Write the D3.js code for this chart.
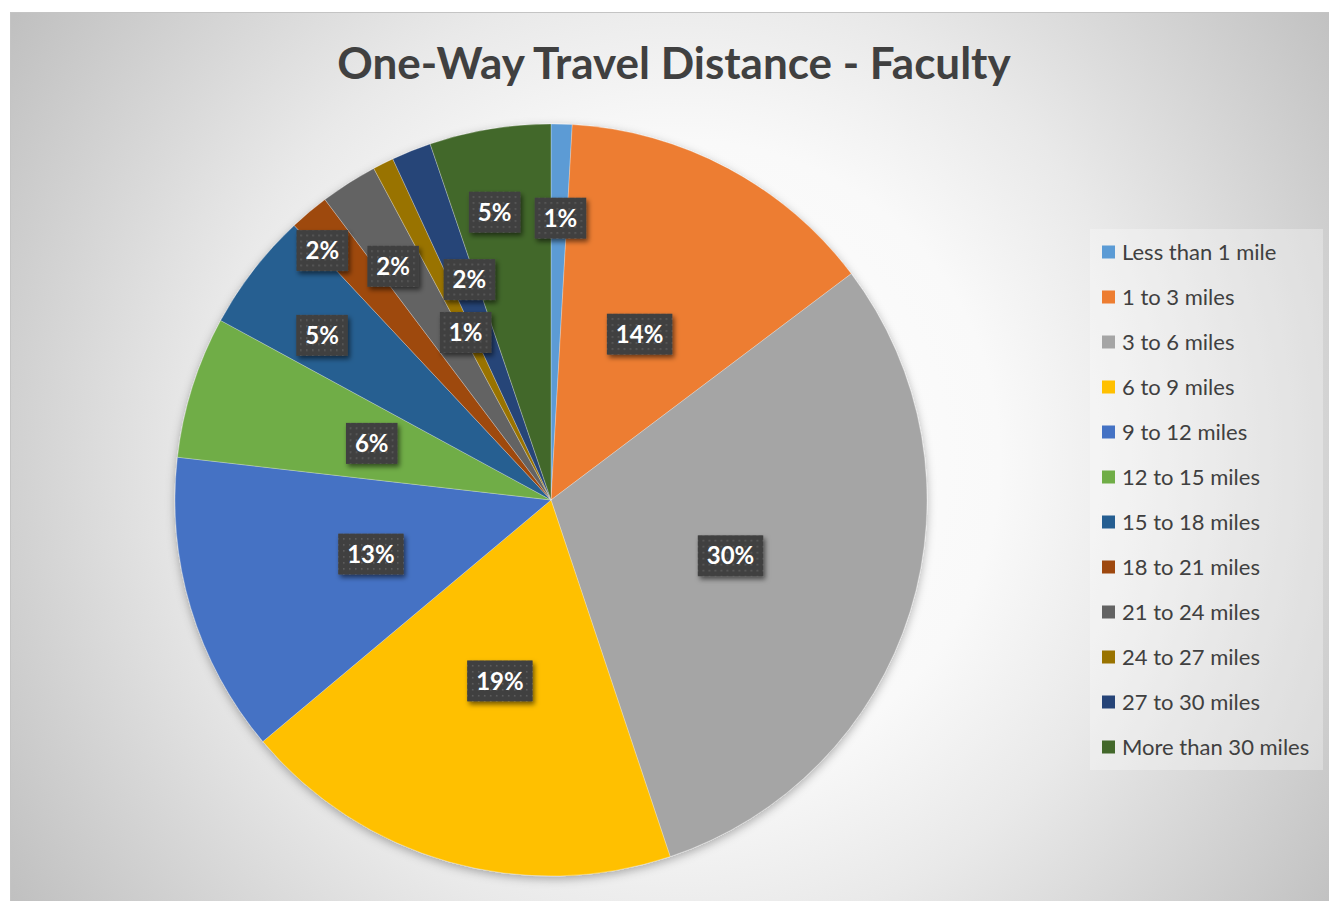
<!DOCTYPE html>
<html><head><meta charset="utf-8">
<script src="https://cdn.jsdelivr.net/npm/d3@7"></script>
<style>html,body{margin:0;padding:0;background:#fff;} svg{display:block}</style>
</head><body><svg id="chart" width="1329" height="901"></svg>
<script>
const chartTitle = "One-Way Travel Distance - Faculty";
const categories = ["Less than 1 mile","1 to 3 miles","3 to 6 miles","6 to 9 miles","9 to 12 miles","12 to 15 miles","15 to 18 miles","18 to 21 miles","21 to 24 miles","24 to 27 miles","27 to 30 miles","More than 30 miles"];
const percentValues = [0.9, 13.8, 30.1, 19.0, 12.9, 6.1, 5.1, 1.7, 2.45, 0.9, 1.7, 5.2];
const sliceColors = ["#5B9BD5","#ED7D31","#A5A5A5","#FFC000","#4472C4","#70AD47","#255E91","#9E480E","#636363","#997300","#264478","#43682B"];

// label placement (layout only): radius fraction and angular nudge (deg)
const labelRadius = [0.75,0.5,0.5,0.5,0.5,0.5,0.75,0.9,0.75,0.5,0.625,0.78];
const labelNudge  = [0.3,0,0,0,0,0,-2,-2.5,-1.5,-0.5,1.5,-1.7];

const svg = d3.select("#chart");
const defs = svg.append("defs");

const bg = defs.append("radialGradient").attr("id","bg").attr("gradientUnits","userSpaceOnUse")
  .attr("cx",680).attr("cy",460).attr("r",800);
[[0,"#ffffff"],[0.4,"#f9f9f9"],[0.6,"#e9e9e9"],[1,"#c0c0c0"]].forEach(s=>bg.append("stop").attr("offset",s[0]).attr("stop-color",s[1]));

svg.append("rect").attr("x",10.5).attr("y",12.5).attr("width",1330).attr("height",900)
  .attr("fill","url(#bg)").attr("stroke","#c4c4c4").attr("stroke-width",1);

svg.append("text").attr("x",674).attr("y",79).attr("text-anchor","middle")
  .style("font-family","Lato, 'Open Sans', sans-serif").style("font-weight","bold").style("font-size","44px")
  .attr("fill","#404040").text(chartTitle);

const cx = 551, cy = 500, R = 376;
const pie = d3.pie().sort(null).value(d=>d);
const arcs = pie(percentValues);
const arc = d3.arc().innerRadius(0).outerRadius(R);
const total = d3.sum(percentValues);

const ps = defs.append("filter").attr("id","pieShadow").attr("x","-10%").attr("y","-10%").attr("width","120%").attr("height","120%");
ps.append("feDropShadow").attr("dx",0).attr("dy",3).attr("stdDeviation",5).attr("flood-color","#000").attr("flood-opacity",0.3);

const g = svg.append("g").attr("transform",`translate(${cx},${cy})`);
g.append("g").attr("filter","url(#pieShadow)")
  .selectAll("path").data(arcs).join("path")
  .attr("d",arc).attr("fill",(d,i)=>sliceColors[i])
  .attr("stroke","rgba(255,255,255,0.45)").attr("stroke-width",0.6);

const pat = defs.append("pattern").attr("id","dots").attr("patternUnits","userSpaceOnUse").attr("width",6).attr("height",6);
pat.append("rect").attr("width",6).attr("height",6).attr("fill","#404040");
pat.append("rect").attr("x",2).attr("y",2).attr("width",1.6).attr("height",1.6).attr("fill","#5e5e5e");

const bs = defs.append("filter").attr("id","boxShadow").attr("x","-30%").attr("y","-30%").attr("width","160%").attr("height","160%");
bs.append("feDropShadow").attr("dx",2).attr("dy",3).attr("stdDeviation",2.5).attr("flood-color","#000").attr("flood-opacity",0.55);

const fmt = d3.format(".0%");
arcs.forEach((a,i)=>{
  const mid = (a.startAngle+a.endAngle)/2 + labelNudge[i]*Math.PI/180;
  const r = R*labelRadius[i];
  const x = r*Math.sin(mid), y = -r*Math.cos(mid);
  const lg = g.append("g").attr("transform",`translate(${x},${y})`);
  const box = lg.append("rect").attr("fill","url(#dots)").attr("filter","url(#boxShadow)");
  const t = lg.append("text").attr("text-anchor","middle").attr("dy","0.36em")
    .style("font-family","Lato, 'Open Sans', sans-serif").style("font-weight","bold").style("font-size","24px")
    .attr("fill","#ffffff").text(fmt(a.value/total));
  const w = t.node().getComputedTextLength()+18;
  box.attr("x",-w/2).attr("y",-20.5).attr("width",w).attr("height",41);
});

const lgX = 1090, lgY = 229;
svg.append("rect").attr("x",lgX).attr("y",lgY).attr("width",233).attr("height",541).attr("fill","rgba(255,255,255,0.3)");
const items = svg.append("g").selectAll("g").data(categories).join("g")
  .attr("transform",(d,i)=>`translate(${lgX+12},${252+45*i})`);
items.append("rect").attr("x",0).attr("y",-6.5).attr("width",13).attr("height",13).attr("fill",(d,i)=>sliceColors[i]);
items.append("text").attr("x",20).attr("dy","0.35em")
  .style("font-family","Lato, 'Open Sans', sans-serif").style("font-size","22px").attr("fill","#404040").text(d=>d);
</script></body></html>
